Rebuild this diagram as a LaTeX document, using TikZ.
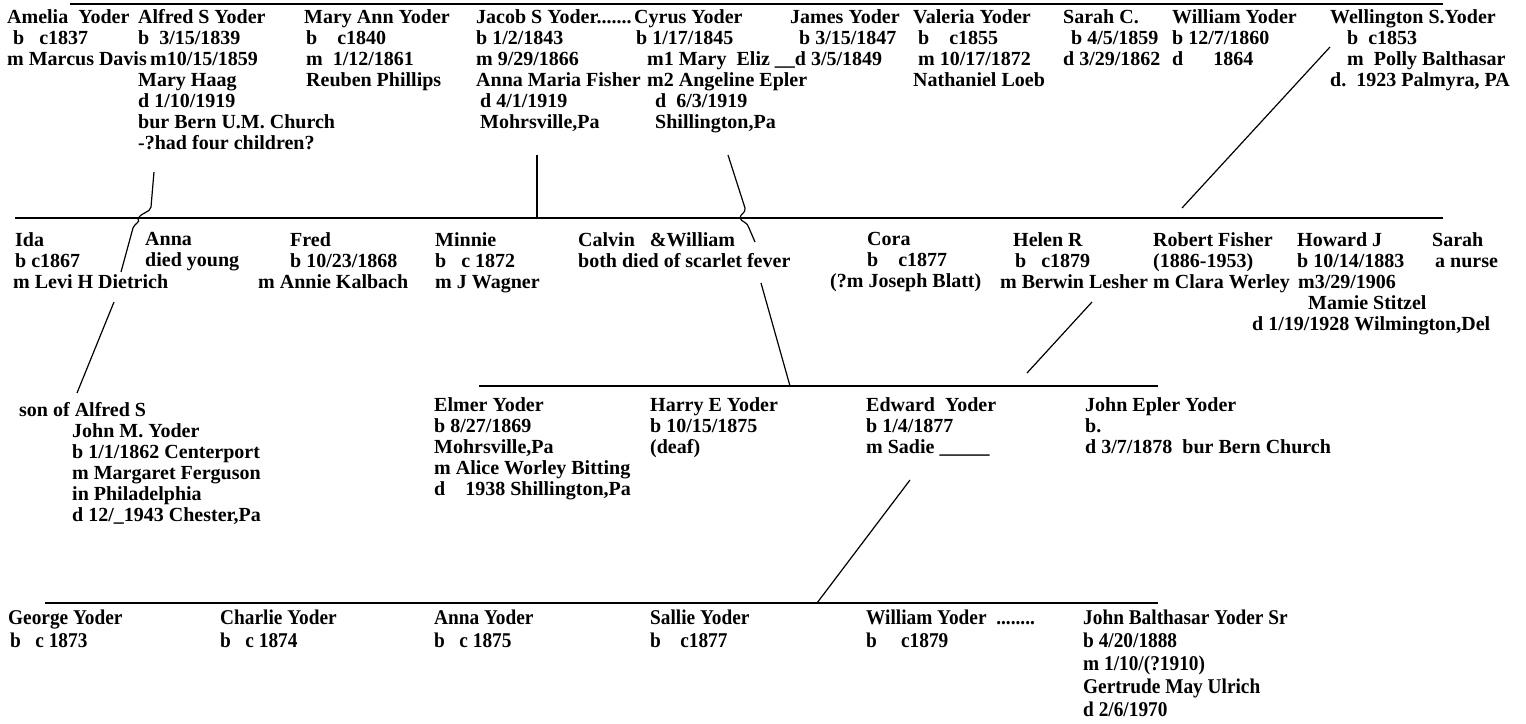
\documentclass[tikz,border=0pt]{standalone}
\usepackage{fontspec}
\setmainfont{Liberation Serif}
\newfontfamily\condfont[FakeStretch=0.92]{Liberation Serif}
\begin{document}
\begin{tikzpicture}[x=1pt,y=-1pt,
  person/.style={anchor=north west,align=left,inner sep=0pt,font=\fontsize{20}{21}\selectfont\bfseries},
  kid/.style={anchor=north west,align=left,inner sep=0pt,font=\condfont\fontsize{21}{23}\selectfont\bfseries},
  rule/.style={line width=1.4pt},
  link/.style={line width=1.2pt}]
\useasboundingbox (0,0) rectangle (1526,723);
\node[person] (amelia) at (7,9) {Amelia\ \ Yoder\\\hspace*{6pt}b\ \ \ c1837\\m Marcus Davis};
\node[person] (alfred) at (138,9) {Alfred S Yoder\\b\ \ 3/15/1839\\\hspace*{12pt}m10/15/1859\\Mary Haag\\d 1/10/1919\\bur Bern U.M. Church\\-?had four children?};
\node[person] (maryann) at (304,9) {Mary Ann Yoder\\\hspace*{2pt}b\ \ \ \ c1840\\\hspace*{2pt}m\ \ 1/12/1861\\\hspace*{2pt}Reuben Phillips};
\node[person] (jacob) at (476,9) {Jacob S Yoder.......\\b 1/2/1843\\m 9/29/1866\\Anna Maria Fisher\\\hspace*{4pt}d 4/1/1919\\\hspace*{4pt}Mohrsville,Pa};
\node[person] (cyrus) at (634,9) {Cyrus Yoder\\\hspace*{2pt}b 1/17/1845\\\hspace*{13pt}m1 Mary\ \ Eliz \_\_d 3/5/1849\\\hspace*{13pt}m2 Angeline Epler\\\hspace*{21pt}d\ \ 6/3/1919\\\hspace*{21pt}Shillington,Pa};
\node[person] (james) at (790,9) {James Yoder\\\hspace*{9pt}b 3/15/1847};
\node[person] (valeria) at (913,9) {Valeria Yoder\\\hspace*{5pt}b\ \ \ \ c1855\\\hspace*{5pt}m 10/17/1872\\Nathaniel Loeb};
\node[person] (sarahc) at (1063,9) {Sarah C.\\\hspace*{8pt}b 4/5/1859\\d 3/29/1862};
\node[person] (williamy) at (1172,9) {William Yoder\\b 12/7/1860\\d\ \ \ \ \ \ 1864};
\node[person] (wellington) at (1330,9) {Wellington S.Yoder\\\hspace*{17pt}b\ \ c1853\\\hspace*{17pt}m\ \ Polly Balthasar\\d.\ \ 1923 Palmyra, PA};
\node[person] (ida) at (13,232) {\hspace*{2pt}Ida\\\hspace*{2pt}b c1867\\m Levi H Dietrich};
\node[person] (anna) at (145,232) {Anna\\died young};
\node[person] (fred) at (258,232) {\hspace*{32pt}Fred\\\hspace*{32pt}b 10/23/1868\\m Annie Kalbach};
\node[person] (minnie) at (435,232) {Minnie\\b\ \ \ c 1872\\m J Wagner};
\node[person] (calvin) at (578,232) {Calvin\ \ \ \&William\\both died of scarlet fever};
\node[person] (cora) at (830,232) {\hspace*{37pt}Cora\\\hspace*{37pt}b\ \ \ \ c1877\\(?m Joseph Blatt)};
\node[person] (helen) at (1000,232) {\hspace*{13pt}Helen R\\\hspace*{15pt}b\ \ \ c1879\\m Berwin Lesher};
\node[person] (robert) at (1153,232) {Robert Fisher\\(1886-1953)\\m Clara Werley};
\node[person] (howard) at (1252,232) {\hspace*{45pt}Howard J\\\hspace*{45pt}b 10/14/1883\\\hspace*{46pt}m3/29/1906\\\hspace*{56pt}Mamie Stitzel\\d 1/19/1928 Wilmington,Del};
\node[person] (sarah) at (1432,232) {Sarah\\\hspace*{3pt}a nurse};
\node[person] (sonof) at (19,402) {son of Alfred S\\\hspace*{53pt}John M. Yoder\\\hspace*{53pt}b 1/1/1862 Centerport\\\hspace*{53pt}m Margaret Ferguson\\\hspace*{53pt}in Philadelphia\\\hspace*{53pt}d 12/\_1943 Chester,Pa};
\node[person] (elmer) at (434,397) {Elmer Yoder\\b 8/27/1869\\Mohrsville,Pa\\m Alice Worley Bitting\\d\ \ \ \ 1938 Shillington,Pa};
\node[person] (harry) at (650,397) {Harry E Yoder\\b 10/15/1875\\(deaf)};
\node[person] (edward) at (866,397) {Edward\ \ Yoder\\b 1/4/1877\\m Sadie \_\_\_\_\_};
\node[person] (johnepler) at (1085,397) {John Epler Yoder\\b.\\d 3/7/1878\ \ bur Bern Church};
\node[kid] (george) at (8,610) {George Yoder\\\hspace*{2pt}b\ \ \ c 1873};
\node[kid] (charlie) at (220,610) {Charlie Yoder\\b\ \ \ c 1874};
\node[kid] (annay) at (434,610) {Anna Yoder\\b\ \ \ c 1875};
\node[kid] (sallie) at (650,610) {Sallie Yoder\\b\ \ \ \ c1877};
\node[kid] (williamb) at (866,610) {William Yoder\ \ ........\\b\ \ \ \ \ c1879};
\node[kid] (johnb) at (1083,610) {John Balthasar Yoder Sr\\b 4/20/1888\\m 1/10/(?1910)\\Gertrude May Ulrich\\d 2/6/1970};
\draw[rule] (70,4) -- (1443,4);
\draw[rule] (15,218) -- (1443,218);
\draw[rule] (479,386) -- (1158,386);
\draw[rule] (45,603) -- (1158,603);
\coordinate (alf0) at (154,172);
\coordinate (alf1) at (133,228);
\coordinate (alf2) at (121,272);
\coordinate (alf3) at (114,302);
\coordinate (alf4) at (77,393);
\draw[link] (alf0) -- (151,207) .. controls (150,213) and (141,212) .. (138,219) .. controls (141,222) and (134,224) .. (alf1) -- (alf2);
\draw[link] (alf3) -- (alf4);
\coordinate (jac0) at (537,155);
\coordinate (jac1) at (537,218);
\draw[link] (jac0) -- (jac1);
\coordinate (cy0) at (728,155);
\coordinate (cy1) at (755,242);
\coordinate (cy2) at (761,283);
\coordinate (cy3) at (790,386);
\draw[link] (cy0) -- (745,208) .. controls (746,213) and (740,214) .. (740,218) .. controls (741,222) and (748,222) .. (749,228) -- (cy1);
\draw[link] (cy2) -- (cy3);
\coordinate (wel0) at (1330,47);
\coordinate (wel1) at (1182,208);
\draw[link] (wel0) -- (wel1);
\coordinate (hel0) at (1092,302);
\coordinate (hel1) at (1027,373);
\draw[link] (hel0) -- (hel1);
\coordinate (edw0) at (910,480);
\coordinate (edw1) at (817,603);
\draw[link] (edw0) -- (edw1);
\end{tikzpicture}
\end{document}
